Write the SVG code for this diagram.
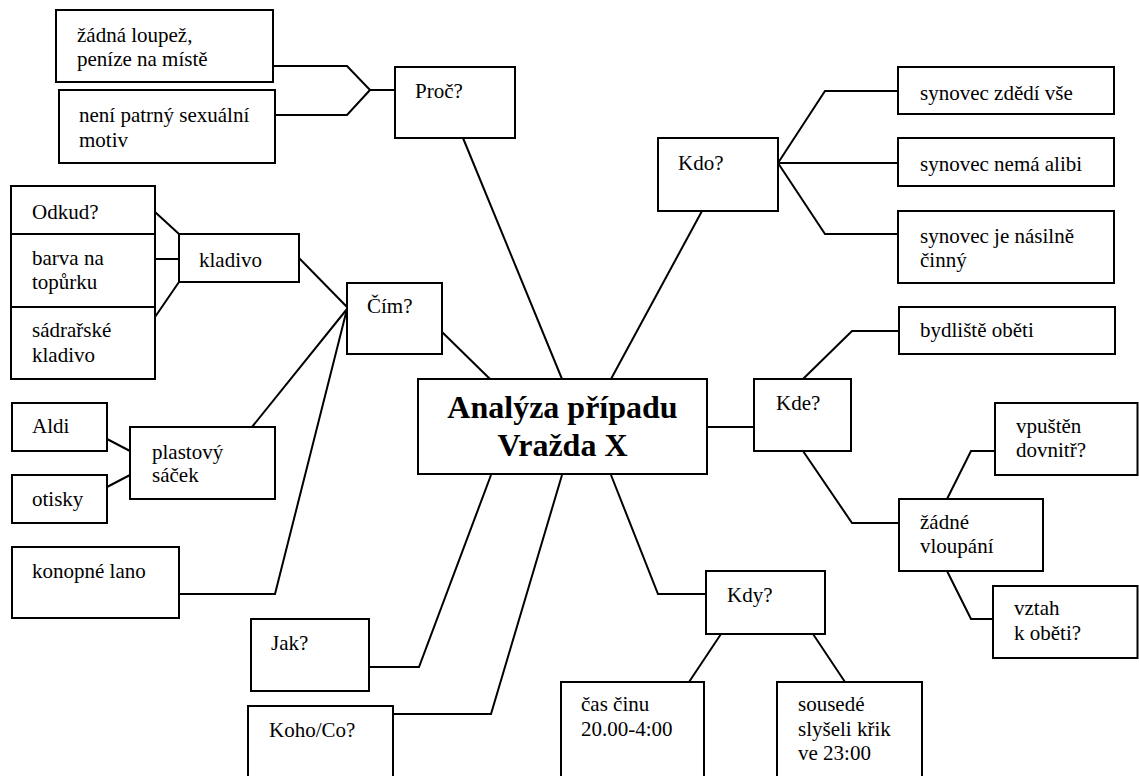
<svg xmlns="http://www.w3.org/2000/svg" width="1139" height="776" viewBox="0 0 1139 776">
<style>
rect{fill:#fff;stroke:#000;stroke-width:2}
text{font-family:"Liberation Serif","Times New Roman",serif;font-size:21px;fill:#000}
.main{font-size:32px;font-weight:bold;text-anchor:middle}
#connectors path{fill:none;stroke:#000;stroke-width:2;stroke-linejoin:miter}
</style>
<rect x="0" y="0" width="1139" height="776" style="stroke:none"/>
<g id="connectors">
<path d="M273,66 H347 L370,90 H395 M275,115 H347 L370,90"/>
<path d="M463,138 L562,379"/>
<path d="M702,211 L611,379"/>
<path d="M778,163 L825,91 H898 M778,163 H898 M778,163 L825,234 H898"/>
<path d="M155,212 L179,234 M155,259 H179 M155,317 L179,282"/>
<path d="M299,258 L347,307"/>
<path d="M442,332 L490,379"/>
<path d="M347,309 L252,427"/>
<path d="M347,309 L275,594 H179"/>
<path d="M107,439 L130,451 M107,487 L130,475"/>
<path d="M707,427 H754"/>
<path d="M803,379 L852,331 H899 M803,451 L852,523 H899"/>
<path d="M947,499 L971,451 H995 M947,571 L971,619 H993"/>
<path d="M611,475 L658,594 H706"/>
<path d="M721,634 L689,682 M813,634 L845,682"/>
<path d="M491,475 L419,667 H369"/>
<path d="M562,475 L491,714 H393"/>
</g>
<g id="n-zadna-loupez"><rect x="56" y="10" width="217" height="72"/><text x="77" y="42">žádná loupež,</text><text x="77" y="66">peníze na místě</text></g>
<g id="n-neni-patrny"><rect x="59" y="90" width="216" height="73"/><text x="79" y="122">není patrný sexuální</text><text x="79" y="147">motiv</text></g>
<g id="n-proc"><rect x="395" y="67" width="120" height="71"/><text x="415" y="98">Proč?</text></g>
<g id="n-odkud"><rect x="11" y="186" width="144" height="48"/><text x="32" y="219">Odkud?</text></g>
<g id="n-barva"><rect x="11" y="234" width="144" height="73"/><text x="32" y="265">barva na</text><text x="32" y="289">topůrku</text></g>
<g id="n-sadrarske"><rect x="11" y="307" width="144" height="72"/><text x="32" y="337">sádrařské</text><text x="32" y="362">kladivo</text></g>
<g id="n-kladivo"><rect x="179" y="234" width="120" height="48"/><text x="199" y="267">kladivo</text></g>
<g id="n-cim"><rect x="347" y="283" width="95" height="71"/><text x="367" y="313">Čím?</text></g>
<g id="n-aldi"><rect x="12" y="403" width="95" height="48"/><text x="32" y="433">Aldi</text></g>
<g id="n-otisky"><rect x="12" y="475" width="95" height="48"/><text x="32" y="506">otisky</text></g>
<g id="n-plastovy"><rect x="130" y="427" width="145" height="72"/><text x="152" y="459">plastový</text><text x="152" y="482">sáček</text></g>
<g id="n-konopne"><rect x="12" y="547" width="167" height="71"/><text x="32" y="578">konopné lano</text></g>
<g id="n-main"><rect x="418" y="379" width="289" height="95"/><text class="main" x="562.5" y="418">Analýza případu</text><text class="main" x="562.5" y="456">Vražda X</text></g>
<g id="n-kdo"><rect x="658" y="138" width="120" height="73"/><text x="678" y="170">Kdo?</text></g>
<g id="n-syn1"><rect x="898" y="67" width="216" height="47"/><text x="920" y="100">synovec zdědí vše</text></g>
<g id="n-syn2"><rect x="898" y="138" width="216" height="48"/><text x="920" y="171">synovec nemá alibi</text></g>
<g id="n-syn3"><rect x="898" y="211" width="216" height="72"/><text x="920" y="243">synovec je násilně</text><text x="920" y="267">činný</text></g>
<g id="n-kde"><rect x="754" y="379" width="97" height="72"/><text x="776" y="410">Kde?</text></g>
<g id="n-bydliste"><rect x="899" y="307" width="216" height="47"/><text x="920" y="337">bydliště oběti</text></g>
<g id="n-vpusten"><rect x="995" y="403" width="142.5" height="72"/><text x="1016" y="433">vpuštěn</text><text x="1016" y="457">dovnitř?</text></g>
<g id="n-zadne-vloupani"><rect x="899" y="499" width="144" height="72"/><text x="920" y="529">žádné</text><text x="920" y="553">vloupání</text></g>
<g id="n-vztah"><rect x="993" y="586" width="144.5" height="72"/><text x="1014" y="615">vztah</text><text x="1014" y="640">k oběti?</text></g>
<g id="n-kdy"><rect x="706" y="571" width="119" height="63"/><text x="727" y="602">Kdy?</text></g>
<g id="n-cas"><rect x="561" y="682" width="143" height="110"/><text x="581" y="711">čas činu</text><text x="581" y="736">20.00-4:00</text></g>
<g id="n-sousede"><rect x="777" y="682" width="145" height="110"/><text x="798" y="711">sousedé</text><text x="798" y="736">slyšeli křik</text><text x="798" y="760">ve 23:00</text></g>
<g id="n-jak"><rect x="251" y="619" width="118" height="72"/><text x="271" y="650">Jak?</text></g>
<g id="n-koho"><rect x="248" y="706" width="145" height="90"/><text x="269" y="737">Koho/Co?</text></g>
</svg>
